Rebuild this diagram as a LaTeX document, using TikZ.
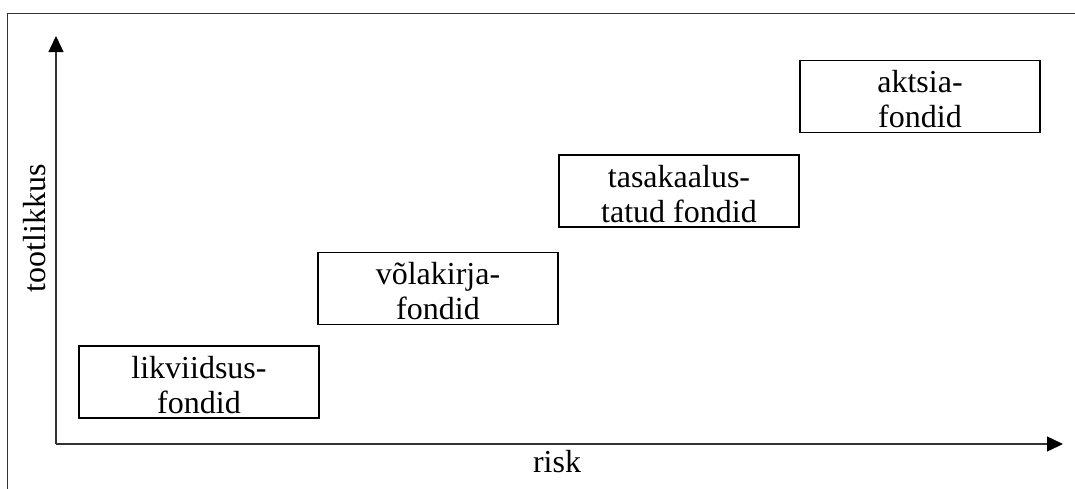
\documentclass[tikz,border=0pt]{standalone}
\usepackage{fontspec}
\setmainfont{Liberation Serif}
\usetikzlibrary{arrows.meta}
\tikzset{
  fundbox/.style={draw=black, line width=1.1pt, rectangle, inner sep=0pt,
    minimum width=240pt, minimum height=72pt, align=center,
    font=\fontsize{32}{35}\selectfont, text height=67pt, text depth=5pt},
  axislabel/.style={font=\fontsize{32}{35}\selectfont, inner sep=0pt, anchor=base},
  axisline/.style={draw=black!80, line width=1.4pt,
    -{Triangle[length=16pt,width=15pt,color=black]}},
  frameline/.style={draw=black!80, line width=1.4pt}
}
\begin{document}
\begin{tikzpicture}[x=1pt,y=-1pt]
\useasboundingbox (0,0) rectangle (1075,488);
\clip (0,0) rectangle (1075,488);
\draw[frameline] (7.5,13.5) rectangle (1090,500);
\coordinate (o) at (56,444);
\coordinate (ytip) at (56,36);
\coordinate (xtip) at (1063,444);
\draw[axisline] (o) -- (ytip);
\draw[axisline] (o) -- (xtip);
\node[axislabel] (risk) at (557,472) {risk};
\node[axislabel, rotate=90] (tootlikkus) at (45,228) {tootlikkus};
\node[fundbox] (b1) at (199,382) {likviidsus-\\fondid};
\node[fundbox] (b2) at (438,288.5) {võlakirja-\\fondid};
\node[fundbox] (b3) at (679,191) {tasakaalus-\\tatud fondid};
\node[fundbox] (b4) at (920,96.5) {aktsia-\\fondid};
\end{tikzpicture}
\end{document}
